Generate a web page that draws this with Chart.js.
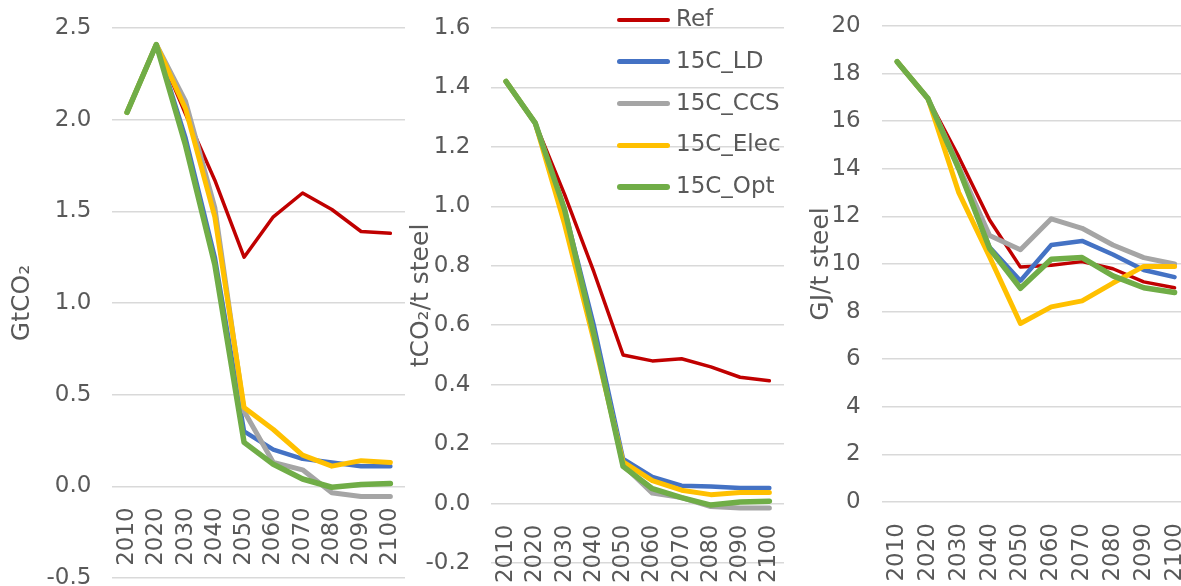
<!DOCTYPE html>
<html>
<head>
<meta charset="utf-8">
<script src="https://cdn.jsdelivr.net/npm/chart.js@4.4.1/dist/chart.umd.min.js"></script>
<style>
  html, body { margin: 0; padding: 0; background: #fff; overflow: hidden; width: 1181px; height: 586px; }
  canvas { position: absolute; top: 0; }
  .lg-row { position: absolute; left: 617px; height: 30px; }
  .lg-line { position: absolute; left: 0; width: 53px; border-radius: 3px; }
  .lg-text { position: absolute; left: 59px; top: 0; line-height: 30px; font: 23px "DejaVu Sans"; color: #595959; white-space: nowrap; }
</style>
</head>
<body>
<canvas id="c1" width="405" height="586" style="left:0px"></canvas>
<canvas id="c2" width="384" height="586" style="left:400px"></canvas>
<canvas id="c3" width="400" height="586" style="left:790px"></canvas>
<div id="legend"></div>
<script>
const years = ['2010', '2020', '2030', '2040', '2050', '2060', '2070', '2080', '2090', '2100'];
const seriesNames = ['Ref', '15C_LD', '15C_CCS', '15C_Elec', '15C_Opt'];
const seriesColors = ['#C00000', '#4472C4', '#A5A5A5', '#FFC000', '#70AD47'];
const seriesWidths = [3.5, 4.5, 5, 5, 5.5];

// total emissions, GtCO2
const emisRef  = [2.04, 2.41, 2.03, 1.67, 1.25, 1.47, 1.60, 1.51, 1.39, 1.38];
const emisLD   = [2.04, 2.41, 1.90, 1.25, 0.30, 0.20, 0.15, 0.13, 0.11, 0.11];
const emisCCS  = [2.04, 2.41, 2.10, 1.52, 0.41, 0.13, 0.09, -0.035, -0.055, -0.055];
const emisElec = [2.04, 2.41, 2.06, 1.47, 0.43, 0.31, 0.17, 0.11, 0.14, 0.13];
const emisOpt  = [2.04, 2.41, 1.86, 1.21, 0.24, 0.12, 0.04, -0.005, 0.01, 0.015];

// emission intensity, tCO2/t steel
const intRef  = [1.42, 1.28, 1.04, 0.78, 0.50, 0.48, 0.487, 0.46, 0.425, 0.413];
const intLD   = [1.42, 1.28, 0.99, 0.60, 0.15, 0.09, 0.06, 0.057, 0.052, 0.052];
const intCCS  = [1.42, 1.28, 0.98, 0.57, 0.13, 0.035, 0.02, -0.01, -0.015, -0.015];
const intElec = [1.42, 1.28, 0.94, 0.55, 0.14, 0.077, 0.045, 0.03, 0.037, 0.037];
const intOpt  = [1.42, 1.28, 0.99, 0.57, 0.125, 0.05, 0.02, -0.005, 0.005, 0.008];

// energy intensity, GJ/t steel
const enRef  = [18.5, 16.95, 14.5, 11.85, 9.87, 9.95, 10.1, 9.8, 9.25, 9.0];
const enLD   = [18.5, 16.95, 14.0, 10.7, 9.3, 10.8, 10.97, 10.4, 9.75, 9.45];
const enCCS  = [18.5, 16.95, 14.1, 11.2, 10.6, 11.9, 11.5, 10.8, 10.27, 10.0];
const enElec = [18.5, 16.95, 13.0, 10.3, 7.5, 8.2, 8.45, 9.2, 9.9, 9.9];
const enOpt  = [18.5, 16.95, 14.0, 10.65, 8.98, 10.2, 10.27, 9.5, 9.0, 8.8];

const textColor = '#595959';
Chart.defaults.font.family = 'DejaVu Sans';

function makeChart(id, series, o) {
  const datasets = series.map((d, i) => ({
    label: seriesNames[i],
    data: d,
    borderColor: seriesColors[i],
    backgroundColor: seriesColors[i],
    borderWidth: seriesWidths[i],
    borderJoinStyle: 'round',
    borderCapStyle: 'round',
    pointRadius: 0,
    tension: 0,
    fill: false,
    order: series.length - i
  }));
  return new Chart(document.getElementById(id), {
    type: 'line',
    data: { labels: years, datasets: datasets },
    options: {
      responsive: false,
      animation: false,
      layout: { padding: { top: o.padTop, bottom: o.padBottom, left: 0, right: 0 } },
      plugins: { legend: { display: false }, tooltip: { enabled: false } },
      scales: {
        x: {
          type: 'category',
          axis: 'x',
          position: { y: 0 },
          offset: true,
          grid: { display: false },
          border: { display: false },
          ticks: { autoSkip: false, minRotation: 90, maxRotation: 90, padding: 13, color: textColor, font: { size: 23 } },
          afterFit: s => { s.height = 0; s.paddingLeft = 0; s.paddingRight = 0; }
        },
        y: {
          min: o.min,
          max: o.max,
          grid: { color: '#D9D9D9', lineWidth: 1.5, drawTicks: false },
          border: { display: false },
          ticks: { stepSize: o.step, padding: 21, color: textColor, font: { size: 23 },
                   callback: v => v.toFixed(o.dec) },
          title: { display: true, text: o.title, color: textColor, font: { size: 25 }, padding: { top: o.titlePad, bottom: 0 } },
          afterFit: s => { s.width = o.axisWidth; s.paddingTop = 0; s.paddingBottom = 0; }
        }
      }
    }
  });
}

makeChart('c1', [emisRef, emisLD, emisCCS, emisElec, emisOpt],
  { min: -0.5, max: 2.5, step: 0.5, dec: 1, title: 'GtCO₂', axisWidth: 112.4, titlePad: 7, padTop: 28, padBottom: 8 });
makeChart('c2', [intRef, intLD, intCCS, intElec, intOpt],
  { min: -0.2, max: 1.6, step: 0.2, dec: 1, title: 'tCO₂/t steel', axisWidth: 91.4, titlePad: 6, padTop: 28, padBottom: 23 });
makeChart('c3', [enRef, enLD, enCCS, enElec, enOpt],
  { min: 0, max: 20, step: 2, dec: 0, title: 'GJ/t steel', axisWidth: 91.7, titlePad: 16, padTop: 26, padBottom: 84 });

// legend overlaid on the middle panel
const legend = document.getElementById('legend');
seriesNames.forEach((name, i) => {
  const row = document.createElement('div');
  row.className = 'lg-row';
  row.style.top = (5 + i * 41.8) + 'px';
  const line = document.createElement('div');
  line.className = 'lg-line';
  line.style.background = seriesColors[i];
  const h = Math.round(seriesWidths[i]);
  line.style.height = h + 'px';
  line.style.top = (15 - h / 2) + 'px';
  const txt = document.createElement('div');
  txt.className = 'lg-text';
  txt.textContent = name;
  row.appendChild(line);
  row.appendChild(txt);
  legend.appendChild(row);
});
</script>
</body>
</html>
